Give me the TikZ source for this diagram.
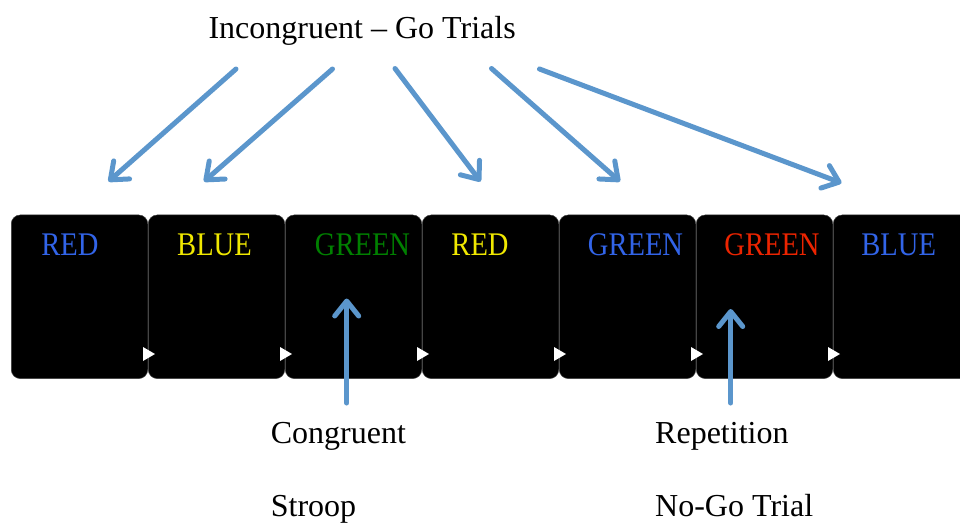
\documentclass[tikz,border=0pt]{standalone}
\usepackage{fontspec}
\setmainfont{Liberation Serif}
\newfontfamily\panelfont[FakeStretch=0.865]{Liberation Serif}
\usetikzlibrary{arrows.meta}
\definecolor{arrowblue}{RGB}{91,150,204}
\definecolor{wblue}{RGB}{50,100,232}
\definecolor{wyellow}{RGB}{240,232,0}
\definecolor{wgreen}{RGB}{0,128,0}
\definecolor{wred}{RGB}{236,36,0}
\tikzset{
  panel/.style={draw=black!75, line width=0.5pt, fill=black, rounded corners=9pt,
    minimum width=136.5pt, minimum height=163.6pt, anchor=north west, inner sep=0pt},
  word/.style={font=\panelfont\fontsize{33}{36}\selectfont, anchor=base, inner sep=0pt},
  lbl/.style={font=\fontsize{32}{36}\selectfont, anchor=base west, inner sep=0pt},
  arr/.style={draw=arrowblue, line width=5pt, line cap=round,
    -{Straight Barb[length=15pt,width=24pt,round]}},
  playmark/.style={fill=white, draw=none}
}
\begin{document}
\begin{tikzpicture}[x=1pt,y=-1pt]
\useasboundingbox (0,0) rectangle (960,523);
\clip (0,0) rectangle (960,523);
% panels
\foreach \i/\x in {1/11,2/148,3/285,4/422,5/559,6/696,7/833}{
  \node[panel] (p\i) at (\x,214.7) {};
}
% play marks at the panel joints
\foreach \b in {148,285,422,559,696,833}{
  \fill[playmark] (\b-5,347) -- (\b-5,361) -- (\b+7,354) -- cycle;
}
% words
\node[word, text=wblue]   (t1) at (70,255)    {RED};
\node[word, text=wyellow] (t2) at (214.5,255) {BLUE};
\node[word, text=wgreen]  (t3) at (362.5,255) {GREEN};
\node[word, text=wyellow] (t4) at (480,255)   {RED};
\node[word, text=wblue]   (t5) at (635.5,255) {GREEN};
\node[word, text=wred]    (t6) at (772,255)   {GREEN};
\node[word, text=wblue]   (t7) at (898.7,255) {BLUE};
% labels
\node[lbl] (title) at (208.3,38) {Incongruent -- Go Trials};
\node[lbl] (cong)  at (270.7,443.3) {Congruent};
\node[lbl] (stroop) at (270.7,516.5) {Stroop};
\node[lbl] (rep)   at (655,443.3) {Repetition};
\node[lbl] (nogo)  at (655,516.5) {No-Go Trial};
% arrow ends
\coordinate (s1) at (236,69);    \coordinate (e1) at (108.5,181.5);
\coordinate (s2) at (332.5,69);  \coordinate (e2) at (204,181.5);
\coordinate (s3) at (395,68.5);  \coordinate (e3) at (480.5,181.5);
\coordinate (s4) at (491.5,68.5);\coordinate (e4) at (620,181.5);
\coordinate (s5) at (539.5,69);  \coordinate (e5) at (841.5,183);
\coordinate (s6) at (346.7,403); \coordinate (e6) at (346.7,298.5);
\coordinate (s7) at (730.7,403); \coordinate (e7) at (730.7,309);
\foreach \k in {1,...,7}{ \draw[arr] (s\k) -- (e\k); }
\end{tikzpicture}
\end{document}
